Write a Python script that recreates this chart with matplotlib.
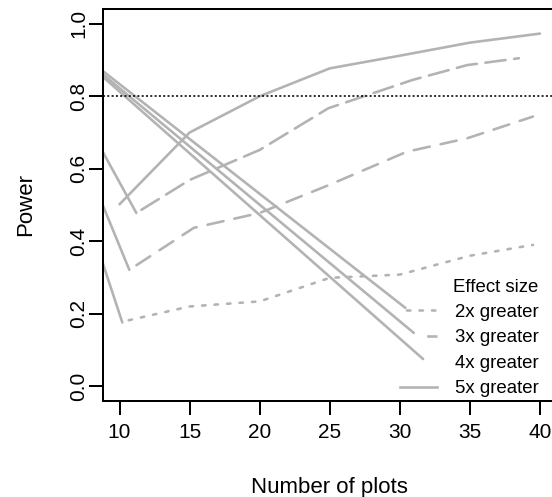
import matplotlib
matplotlib.use("Agg")
import matplotlib.pyplot as plt
from matplotlib.lines import Line2D
from matplotlib.ticker import FormatStrFormatter

plt.rcParams['font.family'] = ['Liberation Sans', 'DejaVu Sans']
plt.rcParams['font.size'] = 15
plt.rcParams['lines.scale_dashes'] = False

# power curves, one per effect size
plots_2x = [10.2, 15, 20, 25, 30, 35, 39.5]
power_2x = [0.178, 0.220, 0.234, 0.299, 0.308, 0.360, 0.390]
plots_3x = [10.7, 15.3, 20, 25, 30.5, 34.8, 39.5]
power_3x = [0.321, 0.437, 0.478, 0.556, 0.647, 0.684, 0.744]
plots_4x = [11.2, 15, 20, 24.9, 30.9, 34.8, 38.5]
power_4x = [0.478, 0.569, 0.652, 0.767, 0.845, 0.886, 0.905]
plots_5x = [10, 15, 20, 25, 30, 35, 40]
power_5x = [0.502, 0.70, 0.80, 0.877, 0.912, 0.948, 0.973]

# stray solid segments coming in from the left edge
lead_x = [[8.8, 10.2], [8.8, 10.7], [8.8, 11.2]]
lead_y = [[0.34, 0.176], [0.50, 0.321], [0.647, 0.478]]
cross_x = [[8.8, 30.4], [8.8, 31.0], [8.8, 31.66]]
cross_y = [[0.870, 0.216], [0.861, 0.147], [0.854, 0.075]]

labels = ["2x greater", "3x greater", "4x greater", "5x greater"]
target = 0.8

grey = "#b3b3b3"
px = 72 / 100.0  # one pixel in points
lw = 2.6 * px
# dash patterns (on, off) in points, round caps add a line width to each dash
dot = (3.4 * px, 9.1 * px)
dash = (16.4 * px, 11.1 * px)
longdash = (20.4 * px, 8.6 * px)

fig = plt.figure(figsize=(5.52, 4.97), dpi=100)
ax = fig.add_axes([102.7 / 552, 1 - 400.7 / 497, 454.1 / 552, 391.4 / 497])

for xs, ys in zip(lead_x, lead_y):
    ax.plot(xs, ys, color=grey, lw=lw, solid_capstyle="round")
for xs, ys in zip(cross_x, cross_y):
    ax.plot(xs, ys, color=grey, lw=lw, solid_capstyle="round")

ax.plot(plots_2x, power_2x, color=grey, lw=lw, dash_capstyle="round",
        linestyle=(dot[0] + lw, dot))
ax.plot(plots_3x, power_3x, color=grey, lw=lw, dash_capstyle="round",
        linestyle=(dash[0] + lw, dash))
ax.plot(plots_4x, power_4x, color=grey, lw=lw, dash_capstyle="round",
        linestyle=(longdash[0] + lw, longdash))
ax.plot(plots_5x, power_5x, color=grey, lw=lw, solid_capstyle="round")

ax.axhline(target, color="black", lw=1.6 * px, linestyle=(0, (2.0 * px, 2.3 * px)))

ax.set_xlim(8.8, 41.2)
ax.set_ylim(-0.04, 1.04)
ax.set_xticks([10, 15, 20, 25, 30, 35, 40])
ax.set_yticks([0.0, 0.2, 0.4, 0.6, 0.8, 1.0])
ax.yaxis.set_major_formatter(FormatStrFormatter('%.1f'))
ax.tick_params(length=14 * px, width=2 * px, color="black", labelsize=15)
ax.tick_params(axis="x", pad=6)
ax.tick_params(axis="y", pad=0.3, labelrotation=90)
for lab in ax.get_yticklabels():
    lab.set_va("center")
for s in ax.spines.values():
    s.set_linewidth(2 * px)

ax.set_xlabel("Number of plots", fontsize=16)
ax.set_ylabel("Power", fontsize=16)
ax.xaxis.set_label_coords(0.5, -0.195)
ax.yaxis.set_label_coords(-0.146, 0.5)

# legend samples: only the visible pieces of each pattern are shown
handles = [
    Line2D([], [], color=grey, lw=lw, dash_capstyle="round", linestyle=(dot[0] + lw, dot)),
    Line2D([], [], color=grey, lw=lw, dash_capstyle="butt", linestyle=(10.3 * px, (10.3 * px, 26.7 * px))),
    Line2D([], [], color=grey, lw=lw, linestyle=(20 * px, (20 * px, 40 * px))),
    Line2D([], [], color=grey, lw=lw),
]
ax.legend(handles, labels, title="Effect size", loc="upper left",
          bbox_to_anchor=(0.655, 0.312), frameon=False, borderpad=0,
          borderaxespad=0, handlelength=1.99, handletextpad=0.95,
          labelspacing=0.45, alignment="right", fontsize=13.4,
          title_fontsize=13.4)

fig.savefig("out.png", dpi=100)
